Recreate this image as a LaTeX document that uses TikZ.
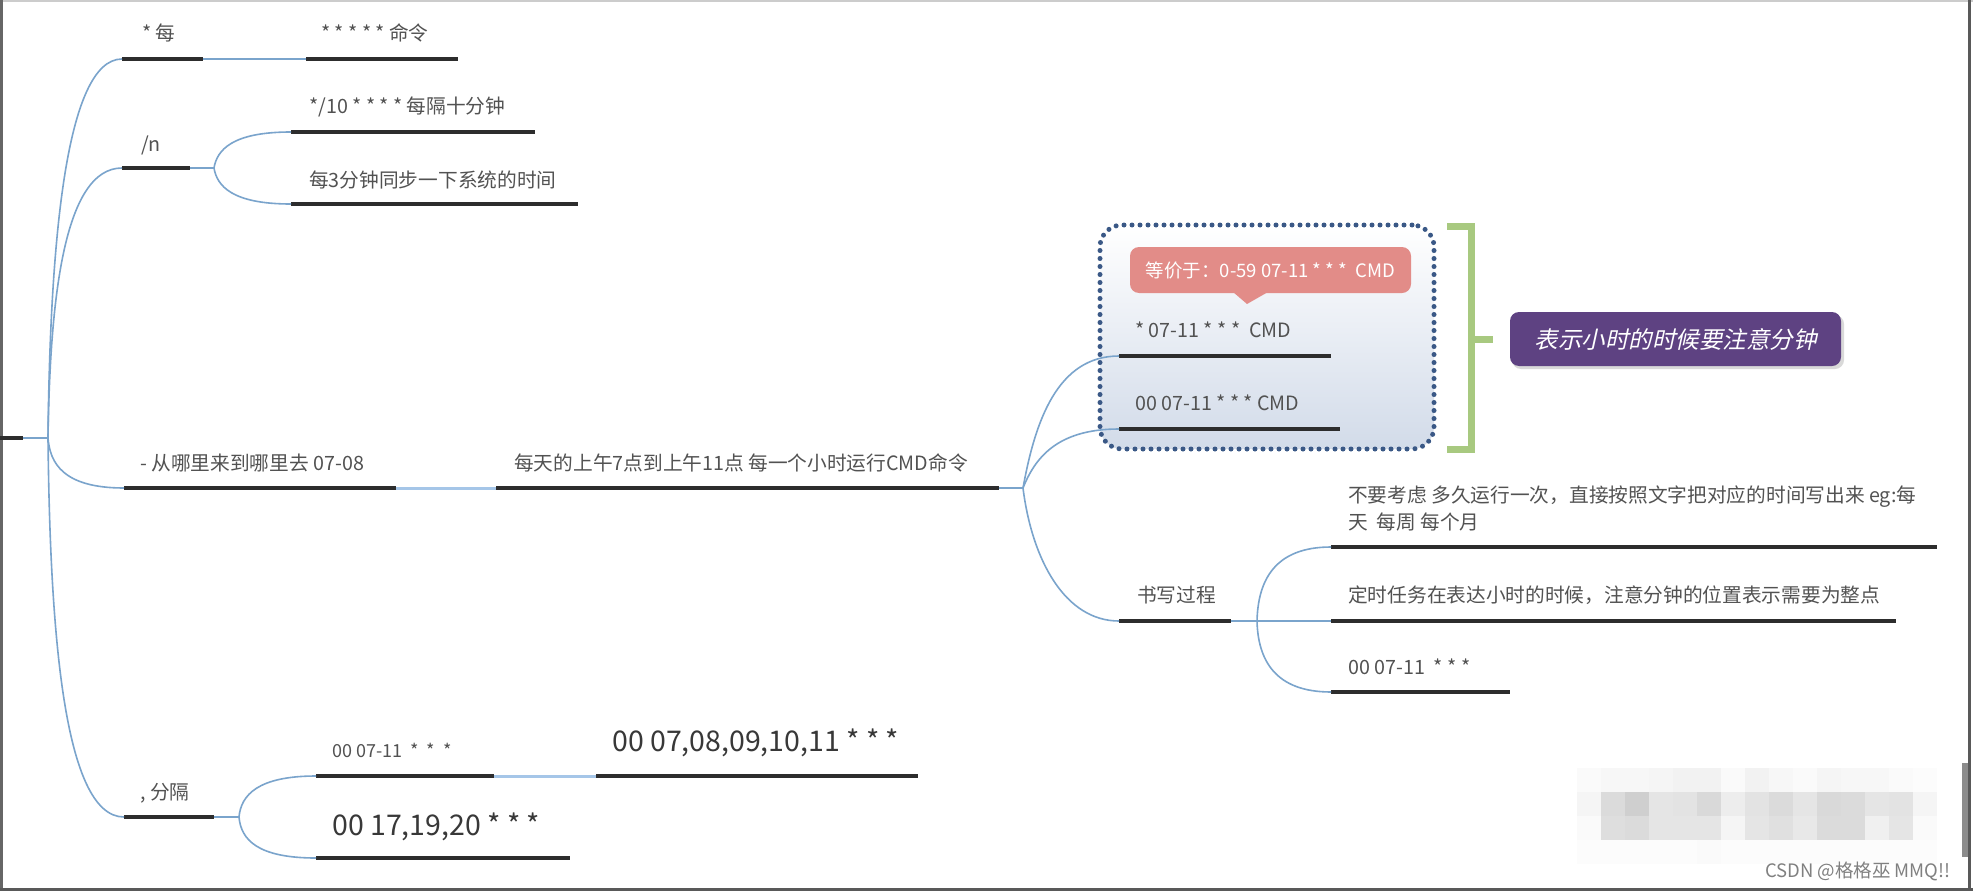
\documentclass[tikz,border=0pt]{standalone}
\usepackage{fontspec}
\setmainfont{Noto Sans CJK SC}
\newfontfamily\slantcjk[FakeSlant=0.22]{Noto Sans CJK SC}
\usetikzlibrary{calc}
\definecolor{linkc}{RGB}{122,164,204}
\definecolor{slinkc}{RGB}{165,198,232}
\definecolor{barc}{RGB}{45,45,45}
\definecolor{txtc}{RGB}{82,82,82}
\definecolor{boxline}{RGB}{58,88,134}
\definecolor{boxbot}{RGB}{210,219,233}
\definecolor{pinkc}{RGB}{226,140,136}
\definecolor{greenc}{RGB}{168,201,128}
\definecolor{purplec}{RGB}{94,66,130}
\begin{document}
\begin{tikzpicture}[x=1pt,y=-1pt,
  bar/.style={fill=barc, draw=none, inner sep=0pt, minimum height=4.5pt, anchor=west},
  lbl/.style={text=txtc, inner sep=0pt, anchor=west, font=\fontsize{19.7}{27}\selectfont},
  big/.style={lbl, text=black!78, font=\fontsize{28.5}{32}\selectfont},
  small/.style={lbl, font=\fontsize{18}{20}\selectfont},
  link/.style={draw=linkc, line width=1.6pt},
  slink/.style={draw=slinkc, line width=3pt},
]
\useasboundingbox (0,0) rectangle (1973,891);
\fill[white] (0,0) rectangle (1973,891);
% frame
\draw[black!20, line width=2pt] (0,1) -- (1973,1);
\draw[black!60, line width=3pt] (1.5,0) -- (1.5,891);
\draw[black!65, line width=3pt] (1969.5,0) -- (1969.5,891);
\draw[black!65, line width=3pt] (0,889.5) -- (1973,889.5);
\fill[black!45] (1962,763) rectangle (1968,857);

% mosaic
\foreach \vals [count=\r from 0] in {{2,3,3,4,5,5,2,5,3,2,4,3,3,2,1},{4,14,19,10,11,15,7,11,14,10,15,14,10,11,4},{2,13,14,10,10,10,4,10,12,9,14,14,6,10,2},{1,1,1,1,1,2,1,1,1,1,1,1,1,1,1}} {
  \foreach \v [count=\c from 0] in \vals {
    \fill[black!\v] ({1577+24*\c},{768+24*\r}) rectangle +(24,24);
  }
}
\node[anchor=west, inner sep=0pt, text=black!50, font=\fontsize{18.5}{22}\selectfont] (wm) at (1765,871) {CSDN @格格巫 MMQ!!};

% group box
\node[draw=boxline, line width=5pt, dash pattern=on 0pt off 8pt, line cap=round,
  rounded corners=22pt, top color=white, bottom color=boxbot,
  minimum width=334pt, minimum height=224pt, inner sep=0pt] (grp) at (1267,337) {};
% callout
\node[fill=pinkc, rounded corners=9pt, minimum width=281pt, minimum height=46pt, inner sep=0pt,
  text=white, font=\fontsize{18.5}{22}\selectfont] (call) at (1270.5,270) {等价于：0-59 07-11 * * *\ \ CMD};
\fill[pinkc] (1233,292) -- (1247,304) -- (1268,292) -- cycle;
% bracket
\draw[greenc, line width=7pt] (1447,226) -- (1471,226) -- (1471,449.5) -- (1447,449.5);
\draw[greenc, line width=7pt] (1471,339) -- (1493,339);
% note
\fill[black!15, rounded corners=9pt] (1512,315) rectangle (1844,369);
\node[fill=purplec, rounded corners=9pt, minimum width=331pt, minimum height=54pt, inner sep=0pt,
  text=white, font=\slantcjk\fontsize{23.5}{28}\selectfont] (note) at (1675.5,339) {表示小时的时候要注意分钟};

% bars
\node[bar, minimum width=23pt] (root) at (0,438) {};
\node[bar, minimum width=81pt] (bA) at (122,59) {};
\node[bar, minimum width=152pt] (bA2) at (306,59) {};
\node[bar, minimum width=68pt] (bB) at (122,168) {};
\node[bar, minimum width=244pt] (bB1) at (291,132) {};
\node[bar, minimum width=287pt] (bB2) at (291,204) {};
\node[bar, minimum width=272pt] (bC) at (124,488) {};
\node[bar, minimum width=503pt] (bC2) at (496,488) {};
\node[bar, minimum width=212pt] (bG1) at (1119,356) {};
\node[bar, minimum width=221pt] (bG2) at (1119,429) {};
\node[bar, minimum width=112pt] (bW) at (1119,621) {};
\node[bar, minimum width=606pt] (bW1) at (1331,547) {};
\node[bar, minimum width=565pt] (bW2) at (1331,621) {};
\node[bar, minimum width=179pt] (bW3) at (1331,692) {};
\node[bar, minimum width=90pt] (bD) at (124,817) {};
\node[bar, minimum width=178pt] (bD1) at (316,776) {};
\node[bar, minimum width=322pt] (bD2) at (596,776) {};
\node[bar, minimum width=254pt] (bD3) at (316,858) {};

% forks
\coordinate (F0) at (48,438);
\coordinate (F1) at (214,168);
\coordinate (F2) at (1023,488);
\coordinate (F3) at (1257,621);
\coordinate (F4) at (239,817);

% connectors
\draw[link] (root.east) -- (F0);
\draw[link] (F0) .. controls (50,248) and (65,59) .. (bA.west);
\draw[link] (F0) .. controls (50,303) and (63,168) .. (bB.west);
\draw[link] (F0) .. controls (50,463) and (63,488) .. (bC.west);
\draw[link] (F0) .. controls (50,627) and (63,817) .. (bD.west);
\draw[link] (bA.east) -- (bA2.west);
\draw[link] (bB.east) -- (F1);
\draw[link] (F1) .. controls (217,150) and (232,132) .. (bB1.west);
\draw[link] (F1) .. controls (217,186) and (232,204) .. (bB2.west);
\draw[slink] (bC.east) -- (bC2.west);
\draw[link] (bC2.east) -- (F2);
\draw[link] (F2) .. controls (1035,422) and (1057,356) .. (bG1.west);
\draw[link] (F2) .. controls (1035,458) and (1057,429) .. (bG2.west);
\draw[link] (F2) .. controls (1032,560) and (1065,621) .. (bW.west);
\draw[link] (bW.east) -- (bW2.west);
\draw[link] (F3) .. controls (1258,580) and (1275,547) .. (bW1.west);
\draw[link] (F3) .. controls (1258,660) and (1275,692) .. (bW3.west);
\draw[link] (bD.east) -- (F4);
\draw[link] (F4) .. controls (241,795) and (258,776) .. (bD1.west);
\draw[link] (F4) .. controls (241,840) and (258,858) .. (bD3.west);
\draw[slink] (bD1.east) -- (bD2.west);

% texts
\node[lbl] (tA) at (142,33) {* 每};
\node[lbl] (tA2) at (321,33) {* * * * * 命令};
\node[lbl] (tB) at (141,145) {/n};
\node[lbl] (tB1) at (309,107) {*/10 * * * * 每隔十分钟};
\node[lbl] (tB2) at (309,180) {每3分钟同步一下系统的时间};
\node[lbl] (tC) at (140,463) {- 从哪里来到哪里去 07-08};
\node[lbl] (tC2) at (514,463) {每天的上午7点到上午11点 每一个小时运行CMD命令};
\node[lbl] (tG1) at (1135,330) {* 07-11 * * *\ \ CMD};
\node[lbl] (tG2) at (1135,403) {00 07-11 * * * CMD};
\node[lbl] (tW) at (1137,595) {书写过程};
\node[lbl, align=left] (tW1) at (1348,508.5) {不要考虑 多久运行一次，直接按照文字把对应的时间写出来 eg:每\\天\ \ 每周 每个月};
\node[lbl] (tW2) at (1348,595) {定时任务在表达小时的时候，注意分钟的位置表示需要为整点};
\node[lbl] (tW3) at (1348,667) {00 07-11\ \ * * *};
\node[lbl] (tD) at (140,793) {, 分隔};
\node[small] (tD1) at (332,750) {00 07-11\ \ *\ \ *\ \ *};
\node[big] (tD2) at (612,743) {00 07,08,09,10,11 * * *};
\node[big] (tD3) at (332,827) {00 17,19,20 * * *};
\end{tikzpicture}
\end{document}
